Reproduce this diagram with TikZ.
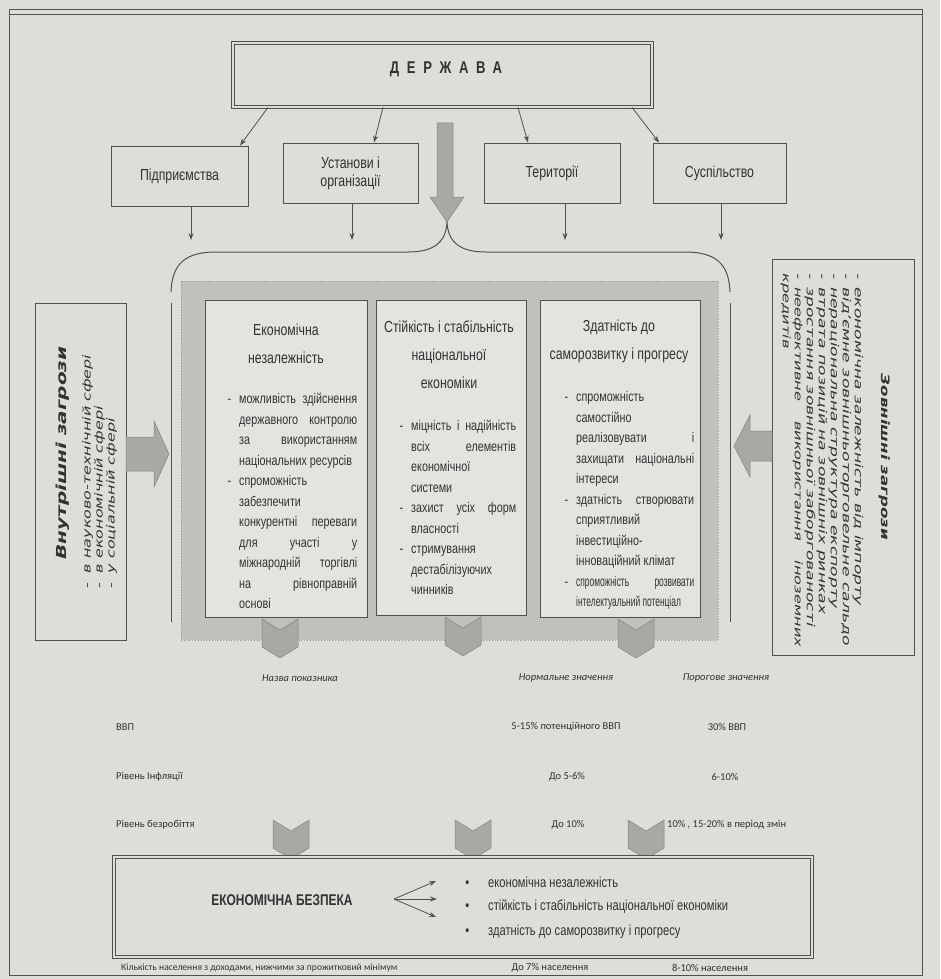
\documentclass[tikz,border=0pt]{standalone}
\usepackage{fontspec}
\usetikzlibrary{positioning,calc,arrows.meta}
\newfontfamily\narrowf[FakeStretch=0.77]{Liberation Sans}
\newfontfamily\squeezef[FakeStretch=0.6]{Liberation Sans}
\newfontfamily\widef[FakeStretch=1.45]{DejaVu Sans}
\newfontfamily\widerf[FakeStretch=1.56]{DejaVu Sans}
\newfontfamily\tabfont{Carlito}
\tolerance=9999
\hbadness=10000
\emergencystretch=2em
\parindent=0pt
\definecolor{paper}{RGB}{221,221,217}
\definecolor{ink}{RGB}{50,50,50}
\definecolor{edge}{RGB}{80,80,80}
\definecolor{shade}{RGB}{192,192,188}
\definecolor{boxfill}{RGB}{227,227,223}
\definecolor{arrfill}{RGB}{168,168,164}
\newcommand{\tnode}[3]{\node [cell] (#1) at (#2) {#3}}
\newcommand{\lnode}[3]{\node [cell, anchor=west] (#1) at (#2) {#3}}
\newcommand{\chev}[2]{\filldraw [blockarr] (#1-18,#2) -- (#1,#2+11) -- (#1+18,#2) -- (#1+18,#2+28) -- (#1,#2+39) -- (#1-18,#2+28) -- cycle}
\newcommand{\bul}[1]{\par\noindent\llap{-\hspace{8pt}}#1}
\newcommand{\rb}[1]{\par\noindent\hangindent=14pt\hangafter=1\makebox[14pt][l]{-}#1}
\tikzset{
  topbox/.style={draw=edge, line width=0.9pt, fill=paper, text=ink, align=center, inner sep=0pt,
    font=\narrowf\fontsize{16}{18}\selectfont},
  dbox/.style={draw=edge, line width=0.7pt, double=paper, double distance=2.2pt, fill=paper, text=ink, inner sep=0pt},
  core/.style={fill=shade, draw=edge!60, dotted, line width=0.8pt, inner sep=0pt},
  cbox/.style={draw=edge, line width=0.9pt, fill=boxfill, inner sep=0pt},
  ctitle/.style={text=ink, align=center, inner sep=0pt, font=\narrowf\fontsize{16}{28}\selectfont},
  cbody/.style={text=ink, text width=118pt, align=justify, inner sep=0pt, anchor=north west,
    font=\narrowf\fontsize{14}{20.5}\selectfont},
  arr/.style={draw=edge, line width=0.8pt, -{Stealth[length=7pt,width=5pt]}},
  line/.style={draw=edge, line width=1pt},
  blockarr/.style={fill=arrfill, draw=edge!70, line width=0.5pt},
  cell/.style={text=ink, inner sep=0pt, font=\tabfont\fontsize{10.5}{12}\selectfont},
  item/.style={text=ink, inner sep=0pt, anchor=west, font=\narrowf\fontsize{14.5}{16}\selectfont}
}
\begin{document}
\begin{tikzpicture}[x=1pt, y=-1pt]

\useasboundingbox (0,0) rectangle (940,979);
\fill[paper] (0,0) rectangle (940,979);
\draw[edge, line width=1pt] (9,10) rectangle (922,975);
\draw[edge, line width=0.6pt] (9,14) -- (922,14);

\node[dbox, minimum width=419pt, minimum height=64pt] (DER) at (442.5,75) {};
\node[text=ink, inner sep=0pt, font=\narrowf\bfseries\fontsize{17}{19}\selectfont\addfontfeature{LetterSpace=45}] (DERt) at (446,69) {ДЕРЖАВА};

\node[topbox, minimum width=137pt, minimum height=60pt] (PID) at (179.5,176) {Підприємства};
\node[topbox, minimum width=135pt, minimum height=60pt] (UST) at (350.5,173) {Установи і\\організації};
\node[topbox, minimum width=136pt, minimum height=60pt] (TER) at (552,173) {Території};
\node[topbox, minimum width=133pt, minimum height=60pt] (SUS) at (719.5,173) {Суспільство};

\draw[arr] ([xshift=-174.5pt]DER.south) -- ([xshift=60.5pt]PID.north);
\draw[arr] ([xshift=-59.5pt]DER.south) -- ([xshift=23.5pt]UST.north);
\draw[arr] ([xshift=75.5pt]DER.south) -- ([xshift=-24pt]TER.north);
\draw[arr] ([xshift=189.5pt]DER.south) -- ([xshift=-60.5pt]SUS.north);

\coordinate (p1) at (191,240);
\coordinate (p2) at (352,240);
\coordinate (p3) at (565,240);
\coordinate (p4) at (721,240);
\draw[arr] (PID.south -| p1) -- (p1);
\draw[arr] (UST.south -| p2) -- (p2);
\draw[arr] (TER.south -| p3) -- (p3);
\draw[arr] (SUS.south -| p4) -- (p4);

\filldraw[blockarr] (437,123) -- (453,123) -- (453,197) -- (464,197) -- (447,222) -- (430,197) -- (437,197) -- cycle;

\draw[line] (171,292) .. controls (172,264) and (185,252) .. (216,252) -- (408,252)
  .. controls (433,252) and (446,243) .. (447,222) .. controls (448,243) and (461,252) .. (486,252)
  -- (685,252) .. controls (716,252) and (729,264) .. (730,292);
\draw[line] (171,303) -- (171,622);
\draw[line] (730,303) -- (730,622);

\node[core, minimum width=537pt, minimum height=359pt] (core) at (449.5,460.5) {};
\node[cbox, minimum width=162pt, minimum height=317pt] (EN) at (286,458.5) {};
\node[cbox, minimum width=150pt, minimum height=315pt] (SS) at (451,457.5) {};
\node[cbox, minimum width=160pt, minimum height=317pt] (ZS) at (620,458.5) {};

\node[ctitle] (ENh) at (286,344) {Економічна\\незалежність};
\node[ctitle] (SSh) at (449,355) {Стійкість і стабільність\\національної\\економіки};
\node[ctitle] (ZSh) at (619,341) {Здатність до\\саморозвитку і прогресу};

\node[cbody] (ENb) at (239,383) {\bul{можливість здійснення\linebreak державного контролю\linebreak за використанням\linebreak національних ресурсів}
  \bul{спроможність\linebreak забезпечити\linebreak конкурентні переваги\linebreak для участі у\linebreak міжнародній торгівлі\linebreak на рівноправній\linebreak основі}};
\node[cbody, text width=105pt] (SSb) at (411,410) {\bul{міцність і надійність\linebreak всіх елементів\linebreak економічної\linebreak системи}
  \bul{захист усіх форм\linebreak власності}
  \bul{стримування\linebreak дестабілізуючих\linebreak чинників}};
\node[cbody] (ZSb) at (576,381) {\bul{спроможність\linebreak самостійно\linebreak реалізовувати і\linebreak захищати національні\linebreak інтереси}
  \bul{здатність створювати\linebreak сприятливий\linebreak інвестиційно-\linebreak інноваційний клімат}
  \bul{{\squeezef спроможність розвивати\linebreak інтелектуальний потенціал}}};

\node[topbox, minimum width=91pt, minimum height=337pt] (VZ) at (80.5,471.5) {};
\node[rotate=90, text=ink, inner sep=0pt, font=\widef\bfseries\itshape\fontsize{13.8}{15}\selectfont] (VZh) at (63,453) {Внутрішні загрози};
\node[rotate=90, anchor=north west, text=ink, inner sep=0pt, align=left,
  font=\widef\itshape\fontsize{11}{12}\selectfont] (VZl) at (82,589)
  {-\hspace{10pt}в науково-технічній сфері\\-\hspace{10pt}в економічній сфері\\-\hspace{10pt}у соціальній сфері};

\node[topbox, minimum width=142pt, minimum height=396pt] (ZZ) at (843,457) {};
\node[rotate=-90, text=ink, inner sep=0pt, font=\widef\bfseries\itshape\fontsize{11.5}{14}\selectfont] (ZZh) at (885,457) {Зовнішні загрози};
\node[rotate=-90, anchor=north west, text=ink, inner sep=0pt, text width=374pt, align=justify,
  font=\widerf\itshape\fontsize{11}{12}\selectfont] (ZZl) at (867,273)
  {\setlength{\emergencystretch}{0pt}%
   \rb{економічна залежність від імпорту}
   \rb{від’ємне зовнішньоторговельне сальдо}
   \rb{нераціональна структура експорту}
   \rb{втрата позицій на зовнішніх ринках}
   \rb{зростання зовнішньої заборгованості}
   \rb{{\fontsize{10.4}{12}\selectfont неефективне використання іноземних\linebreak кредитів}}};

\filldraw[blockarr] (126,437) -- (154,437) -- (154,421) -- (169,454) -- (154,487) -- (154,471) -- (126,471) -- cycle;
\filldraw[blockarr] (772,431) -- (750,431) -- (750,415) -- (734,446) -- (750,477) -- (750,461) -- (772,461) -- cycle;

\chev{280}{619};
\chev{463}{617};
\chev{636}{619};

\node[cell, font=\tabfont\itshape\fontsize{10.5}{12}\selectfont] (h1) at (300,678) {Назва показника};
\node[cell, font=\tabfont\itshape\fontsize{10.5}{12}\selectfont] (h2) at (566,678) {Нормальне значення};
\node[cell, font=\tabfont\itshape\fontsize{10.5}{12}\selectfont] (h3) at (726,678) {Порогове значення};
\lnode{r1}{116,727}{ВВП};
\tnode{v1}{566,727}{5-15\% потенційного ВВП};
\tnode{t1}{727,727}{30\% ВВП};
\lnode{r2}{116,777}{Рівень Інфляції};
\tnode{v2}{567,777}{До 5-6\%};
\tnode{t2}{725,777}{6-10\%};
\lnode{r3}{116,825}{Рівень безробіття};
\tnode{v3}{568,825}{До 10\%};
\lnode{t3}{667,825}{10\% , 15-20\% в період змін};

\chev{291}{820};
\chev{473}{820};
\chev{646}{820};

\node[dbox, minimum width=698pt, minimum height=100pt] (EB) at (463,907) {};
\node[text=ink, inner sep=0pt, font=\narrowf\bfseries\fontsize{15.5}{17}\selectfont] (EBt) at (282,900) {ЕКОНОМІЧНА БЕЗПЕКА};
\node[item] (i1) at (488,882) {\llap{•\hspace{19pt}}економічна незалежність};
\node[item] (i2) at (488,907) {\llap{•\hspace{19pt}}стійкість і стабільність національної економіки};
\node[item] (i3) at (488,932) {\llap{•\hspace{19pt}}здатність до саморозвитку і прогресу};
\coordinate (fan) at (394,899);
\coordinate (e1) at (436,881);
\coordinate (e2) at (437,899);
\coordinate (e3) at (436,917);
\draw[arr] (fan) -- (e1);
\draw[arr] (fan) -- (e2);
\draw[arr] (fan) -- (e3);

\node[cell, anchor=west, font=\tabfont\fontsize{9.6}{11}\selectfont] (r4) at (121,968) {Кількість населення з доходами, нижчими за прожитковий мінімум};
\tnode{v4}{550,968}{До 7\% населення};
\tnode{t4}{710,968}{8-10\% населення};

\end{tikzpicture}
\end{document}
